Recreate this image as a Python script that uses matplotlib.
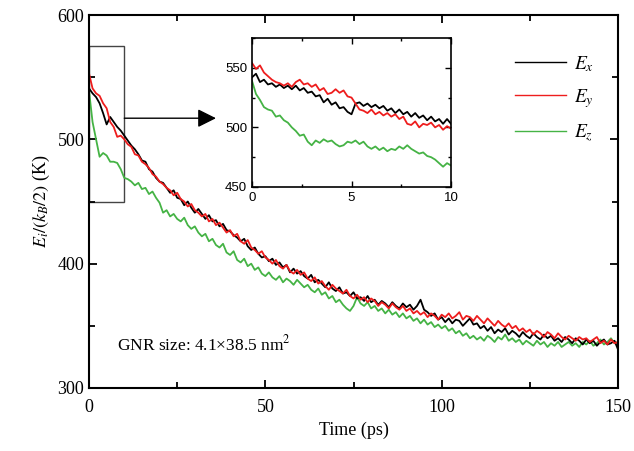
import matplotlib
matplotlib.use("Agg")
import matplotlib.pyplot as plt
from matplotlib.lines import Line2D
from matplotlib.patches import Rectangle
from matplotlib.ticker import MultipleLocator

plt.rcParams['font.family'] = ['Liberation Serif', 'DejaVu Serif']
plt.rcParams['mathtext.fontset'] = 'stix'

# ---------------- data (main panel, 1 ps sampling) ----------------
time_ps = list(range(0, 151))

Ex = [541, 537, 534, 529, 521, 512, 518, 514, 510, 507, 503,
      499, 495, 492, 488, 483, 482, 476, 474, 469, 466,
      465, 461, 457, 459, 453, 452, 447, 450, 445, 441,
      444, 440, 436, 439, 434, 435, 430, 432, 427, 426,
      423, 421, 418, 420, 414, 411, 413, 408, 405, 406,
      402, 404, 399, 401, 397, 399, 393, 396, 392, 394,
      390, 388, 391, 385, 387, 384, 381, 385, 380, 378,
      381, 376, 377, 374, 377, 372, 373, 370, 374, 369,
      371, 367, 370, 368, 365, 369, 366, 364, 368, 365,
      367, 363, 366, 371, 363, 361, 358, 360, 355, 357,
      353, 356, 352, 355, 354, 350, 353, 356, 351, 352,
      348, 350, 346, 349, 344, 347, 345, 348, 343, 346,
      344, 341, 345, 342, 340, 344, 341, 339, 343, 340,
      342, 338, 340, 337, 341, 339, 336, 340, 338, 335,
      339, 336, 338, 334, 337, 339, 335, 336, 338, 331]

Ey = [553, 541, 537, 535, 529, 525, 514, 510, 502, 503, 500,
      496, 494, 488, 487, 482, 480, 477, 472, 470, 466,
      464, 461, 459, 455, 457, 452, 450, 446, 448, 443,
      441, 438, 440, 434, 436, 431, 433, 429, 425, 427,
      422, 424, 418, 416, 419, 413, 411, 408, 410, 405,
      403, 400, 403, 398, 396, 399, 394, 392, 395, 391,
      393, 388, 386, 389, 384, 386, 382, 379, 383, 380,
      378, 376, 379, 374, 372, 375, 371, 373, 369, 372,
      370, 366, 369, 367, 364, 368, 365, 363, 366, 362,
      364, 360, 362, 359, 361, 357, 360, 358, 355, 359,
      357, 360, 356, 358, 361, 355, 358, 357, 354, 358,
      355, 352, 356, 353, 350, 354, 351, 349, 352, 348,
      350, 346, 348, 345, 347, 343, 346, 344, 341, 345,
      343, 340, 344, 341, 339, 342, 340, 338, 341, 339,
      340, 337, 339, 341, 336, 338, 335, 339, 336, 337]

Ez = [539, 514, 500, 486, 489, 487, 482, 482, 481, 476, 469,
      468, 466, 463, 465, 460, 461, 456, 458, 453, 449,
      441, 443, 438, 440, 436, 434, 437, 431, 428, 430,
      425, 422, 424, 418, 420, 415, 413, 416, 409, 407,
      410, 403, 401, 404, 398, 400, 395, 397, 392, 390,
      393, 389, 387, 390, 385, 388, 386, 383, 387, 384,
      381, 383, 379, 377, 380, 375, 377, 372, 374, 369,
      371, 367, 364, 362, 366, 373, 368, 366, 369, 364,
      366, 362, 364, 360, 363, 359, 361, 357, 360, 356,
      358, 354, 356, 352, 355, 351, 353, 349, 351, 348,
      350, 346, 348, 344, 346, 342, 344, 340, 342, 339,
      341, 338, 342, 340, 337, 341, 339, 343, 338, 340,
      337, 339, 335, 338, 336, 334, 338, 335, 337, 333,
      336, 334, 337, 333, 335, 337, 334, 336, 333, 337,
      335, 338, 334, 336, 339, 335, 337, 340, 336, 337]

# ---------------- data (inset, 0.2 ps sampling) ----------------
time_inset = [round(0.2 * i, 1) for i in range(51)]

Ex_inset = [542, 545, 538, 540, 536, 537, 534, 536, 533, 535, 532, 535, 531, 533,
            529, 530, 526, 527, 521, 524, 519, 521, 516, 517, 513, 511, 520, 521,
            518, 520, 517, 519, 516, 518, 514, 516, 512, 515, 511, 513, 509, 512,
            508, 510, 506, 509, 505, 507, 503, 507, 503]
Ey_inset = [554, 549, 552, 546, 543, 540, 538, 537, 535, 537, 534, 538, 540, 536,
            537, 534, 536, 531, 533, 528, 529, 532, 529, 531, 526, 525, 520, 515,
            514, 512, 515, 511, 513, 510, 512, 509, 511, 507, 509, 503, 502, 505,
            500, 503, 502, 504, 500, 502, 498, 501, 499]
Ez_inset = [539, 528, 523, 517, 515, 514, 509, 510, 506, 504, 500, 497, 493, 494,
            488, 485, 489, 487, 490, 488, 489, 486, 484, 485, 488, 487, 489, 486,
            488, 484, 482, 484, 481, 483, 480, 482, 481, 484, 482, 485, 482, 480,
            478, 479, 476, 475, 473, 470, 467, 470, 468]

labels = [r'$E_x$', r'$E_y$', r'$E_z$']
colors = ['#000000', '#ee1d1d', '#45b345']

# ---------------- figure ----------------
fig = plt.figure(figsize=(6.34, 4.51), dpi=100)
ax = fig.add_axes([0.1404, 0.1397, 0.8344, 0.827])

ax.plot(time_ps, Ez, color=colors[2], lw=1.3)
ax.plot(time_ps, Ex, color=colors[0], lw=1.3)
ax.plot(time_ps, Ey, color=colors[1], lw=1.3)

ax.set_xlim(0, 150)
ax.set_ylim(300, 600)
ax.xaxis.set_major_locator(MultipleLocator(50))
ax.xaxis.set_minor_locator(MultipleLocator(25))
ax.yaxis.set_major_locator(MultipleLocator(100))
ax.yaxis.set_minor_locator(MultipleLocator(50))
ax.tick_params(which='both', direction='in', top=True, right=True, labelsize=13)
ax.tick_params(which='major', length=6, width=1.3)
ax.tick_params(which='minor', length=4, width=1.3)
for s in ax.spines.values():
    s.set_linewidth(1.5)
ax.tick_params(axis='x', pad=8)

ax.set_xlabel('Time (ps)', fontsize=13, labelpad=4)
ax.set_ylabel(r'$E_i/(k_B/2)$ (K)', fontsize=13, labelpad=4)

ax.text(8, 335, r'GNR size: 4.1×38.5 nm$^2$', fontsize=12.5, va='center', ha='left')

# zoom rectangle and arrow
ax.add_patch(Rectangle((0, 450), 10, 125, fill=False, edgecolor='#444444', lw=1.0))
ax.annotate('', xy=(36, 517), xytext=(10, 517),
            arrowprops=dict(arrowstyle='-|>', color='black', lw=1.0, mutation_scale=28,
                            shrinkA=0, shrinkB=0))

# legend
handles = [Line2D([], [], color=c, lw=1.0) for c in colors]
leg = ax.legend(handles, labels, loc='upper left', bbox_to_anchor=(0.791, 0.916),
                frameon=False, fontsize=14, handlelength=2.6, handletextpad=0.4,
                labelspacing=0.66, borderaxespad=0.0)

# inset
axi = fig.add_axes([0.3975, 0.5854, 0.3139, 0.3304])
axi.plot(time_inset, Ez_inset, color=colors[2], lw=1.3)
axi.plot(time_inset, Ex_inset, color=colors[0], lw=1.3)
axi.plot(time_inset, Ey_inset, color=colors[1], lw=1.3)
axi.set_xlim(0, 10)
axi.set_ylim(450, 575)
axi.xaxis.set_major_locator(MultipleLocator(5))
axi.xaxis.set_minor_locator(MultipleLocator(2.5))
axi.yaxis.set_major_locator(MultipleLocator(50))
axi.yaxis.set_minor_locator(MultipleLocator(25))
axi.tick_params(which='both', direction='in', top=True, right=True, labelsize=9.5)
axi.tick_params(which='major', length=4, width=1.0)
axi.tick_params(which='minor', length=2.5, width=1.0)
for lab in axi.get_xticklabels() + axi.get_yticklabels():
    lab.set_family(['Liberation Sans', 'DejaVu Sans'])
for s in axi.spines.values():
    s.set_linewidth(1.2)

fig.savefig('out.png', dpi=100)
